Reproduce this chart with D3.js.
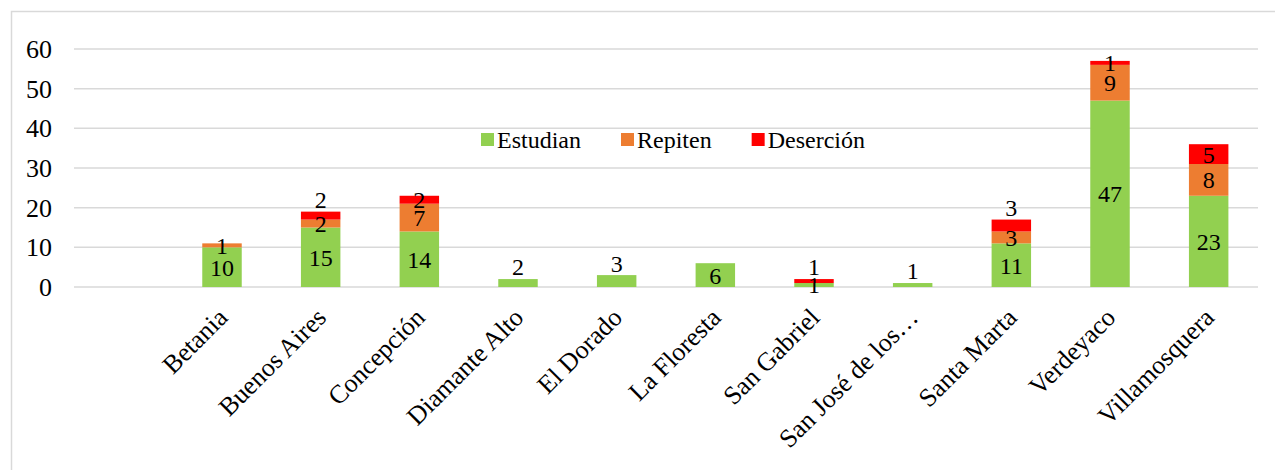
<!DOCTYPE html>
<html>
<head>
<meta charset="utf-8">
<script src="https://cdn.jsdelivr.net/npm/d3@7"></script>
<style>
  body { margin: 0; background: #fff; }
  svg text { font-family: "Liberation Serif", "Times New Roman", serif; fill: #000; }
</style>
</head>
<body>
<div id="chart"></div>
<script>
// categories (first slot is empty in the original sheet)
const categories = ["", "Betania", "Buenos Aires", "Concepción", "Diamante Alto", "El Dorado",
  "La Floresta", "San Gabriel", "San José de los…", "Santa Marta", "Verdeyaco", "Villamosquera"];
const seriesNames = ["Estudian", "Repiten", "Deserción"];
const estudian = [0, 10, 15, 14, 2, 3, 6, 1, 1, 11, 47, 23];
const repiten = [0, 1, 2, 7, 0, 0, 0, 0, 0, 3, 9, 8];
const desercion = [0, 0, 2, 2, 0, 0, 0, 1, 0, 3, 1, 5];
const yTicks = [0, 10, 20, 30, 40, 50, 60];
// labels that sit above the bar instead of inside the segment
const labelsAbove = ["Buenos Aires|Deserción", "Diamante Alto|Estudian", "El Dorado|Estudian",
  "San Gabriel|Deserción", "San José de los…|Estudian", "Santa Marta|Deserción"];

const colors = ["#92D050", "#ED7D31", "#FF0000"];
const width = 1275, height = 470;

let svg = d3.select("#chart").append("svg")
  .attr("width", width)
  .attr("height", height);

// chart area border (only left/top visible in the crop)
svg.append("rect")
  .attr("x", 11.5).attr("y", 11.5)
  .attr("width", 1400).attr("height", 600)
  .attr("fill", "none")
  .attr("stroke", "#D9D9D9")
  .attr("stroke-width", 1.5);

let x = d3.scaleBand()
  .domain(categories)
  .range([74, 1258])
  .paddingInner(0.6)
  .paddingOuter(0.3);

let y = d3.scaleLinear()
  .domain([0, 60])
  .range([287, 49]);

// gridlines
svg.append("g")
  .selectAll("line")
  .data(yTicks)
  .enter().append("line")
  .attr("x1", 74).attr("x2", 1258)
  .attr("y1", d => y(d)).attr("y2", d => y(d))
  .attr("stroke", "#D9D9D9")
  .attr("stroke-width", 1.5);

// y axis labels
svg.append("g")
  .selectAll("text")
  .data(yTicks)
  .enter().append("text")
  .attr("x", 52)
  .attr("y", d => y(d))
  .attr("dy", "0.35em")
  .attr("text-anchor", "end")
  .attr("font-size", "26px")
  .text(d => d);

// stack the three series
let rows = categories.map((c, i) => ({
  cat: c, Estudian: estudian[i], Repiten: repiten[i], "Deserción": desercion[i]
}));
let stacked = d3.stack().keys(seriesNames)(rows);

let layers = svg.append("g")
  .selectAll("g")
  .data(stacked)
  .enter().append("g")
  .attr("fill", (d, i) => colors[i]);

layers.selectAll("rect")
  .data(d => d)
  .enter().append("rect")
  .attr("x", d => x(d.data.cat))
  .attr("width", x.bandwidth())
  .attr("y", d => y(d[1]))
  .attr("height", d => y(d[0]) - y(d[1]));

// data labels
let labels = [];
stacked.forEach(layer => {
  layer.forEach(d => {
    let v = d[1] - d[0];
    if (!v) return;
    let above = labelsAbove.includes(d.data.cat + "|" + layer.key);
    let i = categories.indexOf(d.data.cat);
    let total = estudian[i] + repiten[i] + desercion[i];
    labels.push({
      cat: d.data.cat,
      value: v,
      cy: above ? y(total) - 12 : (y(d[0]) + y(d[1])) / 2
    });
  });
});

svg.append("g")
  .selectAll("text")
  .data(labels)
  .enter().append("text")
  .attr("x", d => x(d.cat) + x.bandwidth() / 2)
  .attr("y", d => d.cy)
  .attr("dy", "0.35em")
  .attr("text-anchor", "middle")
  .attr("font-size", "24px")
  .text(d => d.value);

// category labels, rotated
svg.append("g")
  .selectAll("text")
  .data(categories.filter(c => c !== ""))
  .enter().append("text")
  .attr("transform", d => `translate(${x(d) + x.bandwidth() / 2 - 6},306) rotate(-45)`)
  .attr("dy", "0.71em")
  .attr("text-anchor", "end")
  .attr("font-size", "26px")
  .text(d => d);

// legend
let legend = svg.append("g").attr("transform", "translate(481,140)");
let lx = 0;
seriesNames.forEach((name, i) => {
  let item = legend.append("g").attr("transform", `translate(${lx},0)`);
  item.append("rect")
    .attr("x", 0).attr("y", -7)
    .attr("width", 13).attr("height", 13)
    .attr("fill", colors[i]);
  let t = item.append("text")
    .attr("x", 16)
    .attr("y", 0)
    .attr("dy", "0.35em")
    .attr("font-size", "24px")
    .text(name);
  lx += 16 + t.node().getComputedTextLength() + 40;
});
</script>
</body>
</html>
